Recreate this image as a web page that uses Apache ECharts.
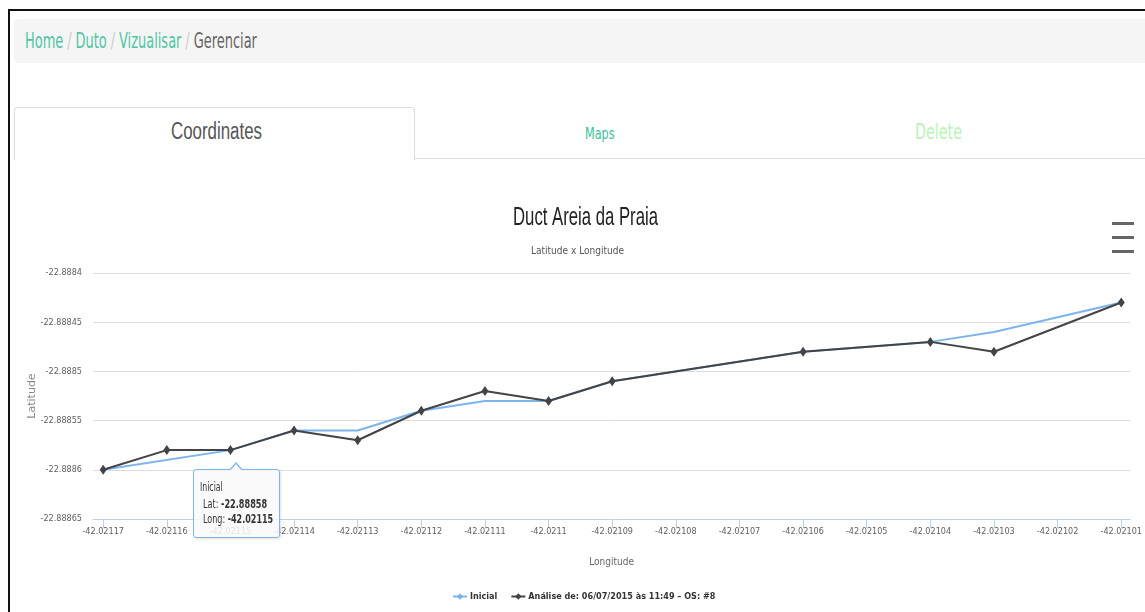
<!DOCTYPE html>
<html><head><meta charset="utf-8">
<script src="https://cdn.jsdelivr.net/npm/echarts@6/dist/echarts.min.js"></script>
<style>
html,body{margin:0;padding:0;width:1145px;height:612px;overflow:hidden;background:#fff;}
body{font-family:"Liberation Sans Narrow","DejaVu Sans Condensed","Liberation Sans",sans-serif;}
#frame{position:absolute;left:8px;top:9px;width:1300px;height:700px;border-left:2px solid #111;border-top:2px solid #111;}
#crumb{position:absolute;left:14px;top:19px;width:1140px;height:44px;background:#f5f5f5;border-radius:4px;}
.fit{position:absolute;white-space:nowrap;transform-origin:0 50%;line-height:1;}
#tab{position:absolute;left:14px;top:107px;width:399px;height:52px;border:1px solid #ddd;border-bottom:none;border-radius:4px 4px 0 0;background:#fff;}
#tabline{position:absolute;left:414px;top:158px;width:740px;height:1px;background:#ddd;}
#chart{position:absolute;left:0;top:0;width:1145px;height:612px;}
#tip{position:absolute;width:85px;height:67px;border:1px solid #7cb5ec;border-radius:3px;background:rgba(249,249,249,0.86);box-shadow:1px 1px 2px rgba(0,0,0,0.12);font-family:"Liberation Sans Narrow","DejaVu Sans Condensed",sans-serif;color:#333;z-index:5;}
#tip .fit{color:#333;}
#arrow{position:absolute;width:0;height:0;border-left:7px solid transparent;border-right:7px solid transparent;border-bottom:8px solid #7cb5ec;z-index:6;}
#arrow2{position:absolute;width:0;height:0;border-left:6px solid transparent;border-right:6px solid transparent;border-bottom:7px solid #f9f9f9;z-index:7;}
</style></head>
<body>
<div id="frame"></div>
<div id="crumb"></div>
<div class="fit" id="bc" style="font-size:22px;"><span style="color:#4fc6a2">Home</span><span style="color:#ccc;padding:0 6px">/</span><span style="color:#4fc6a2">Duto</span><span style="color:#ccc;padding:0 6px">/</span><span style="color:#4fc6a2">Vizualisar</span><span style="color:#ccc;padding:0 6px">/</span><span style="color:#666">Gerenciar</span></div>
<div id="tab"></div>
<div id="tabline"></div>
<div class="fit" id="t1" style="font-family:'Liberation Sans',Arial,sans-serif;font-size:23px;color:#555">Coordinates</div>
<div class="fit" id="t2" style="font-size:15px;color:#3cc29a">Maps</div>
<div class="fit" id="t3" style="font-size:22px;color:#b7f3b7">Delete</div>
<div id="chart"></div>
<div id="tip"><div class="fit" id="tp1" style="font-size:12px">Inicial</div><div class="fit" id="tp2" style="font-size:13px"></div><div class="fit" id="tp3" style="font-size:13px"></div></div>
<div id="arrow"></div><div id="arrow2"></div>
<script>
// ---------- data ----------
const longitudeTicks = [-42.02117,-42.02116,-42.02115,-42.02114,-42.02113,-42.02112,-42.02111,-42.0211,-42.02109,-42.02108,-42.02107,-42.02106,-42.02105,-42.02104,-42.02103,-42.02102,-42.02101];
const latitudeMin = -22.88865, latitudeMax = -22.8884, latitudeStep = 0.00005;

const inicialLon = [-42.02117,-42.02115,-42.02114,-42.02113,-42.02112,-42.02111,-42.0211,-42.02109,-42.02106,-42.02104,-42.02103,-42.02101];
const inicialLat = [-22.8886,-22.88858,-22.88856,-22.88856,-22.88854,-22.88853,-22.88853,-22.88851,-22.88848,-22.88847,-22.88846,-22.88843];

const analiseLon = [-42.02117,-42.02116,-42.02115,-42.02114,-42.02113,-42.02112,-42.02111,-42.0211,-42.02109,-42.02106,-42.02104,-42.02103,-42.02101];
const analiseLat = [-22.8886,-22.88858,-22.88858,-22.88856,-22.88857,-22.88854,-22.88852,-22.88853,-22.88851,-22.88848,-22.88847,-22.88848,-22.88843];

const seriesNames = ['Inicial', 'Análise de: 06/07/2015 às 11:49 – OS: #8'];
const tooltipPoint = {series: 0, index: 1};

// ---------- helpers ----------
function fitEl(id, x, cy, w, centered) {
  const el = document.getElementById(id);
  el.style.top = cy + 'px';
  const ow = el.offsetWidth;
  const s = w / ow;
  el.style.left = (centered ? x - w / 2 : x) + 'px';
  el.style.transform = 'translateY(-50%) scaleX(' + s + ')';
}
fitEl('bc', 25, 41, 232, false);
fitEl('t1', 216, 131, 91, true);
fitEl('t2', 600, 134, 30, true);
fitEl('t3', 938, 132, 47, true);

const NARROW = '"Liberation Sans Narrow","DejaVu Sans Condensed","Liberation Sans",sans-serif';
const mctx = document.createElement('canvas').getContext('2d');
function sx(text, font, target) { mctx.font = font; return target / mctx.measureText(text).width; }
const fmt = v => String(Number(v.toFixed(5)));
const zip = (a, b) => a.map((v, i) => [v, b[i]]);

const titleFont = '26px "Liberation Sans", Arial, sans-serif';
const subFont = '11px ' + NARROW;

const chart = echarts.init(document.getElementById('chart'), null, {renderer: 'canvas'});
chart.setOption({
  animation: false,
  backgroundColor: 'transparent',
  grid: {left: 93, right: 5, top: 273, bottom: 93},
  graphic: [
    {type: 'text', x: 585.5, y: 218, scaleX: sx('Duct Areia da Praia', titleFont, 145),
     style: {text: 'Duct Areia da Praia', font: titleFont, fill: '#222', textAlign: 'center', textVerticalAlign: 'middle'}},
    {type: 'text', x: 577.5, y: 251, scaleX: sx('Latitude x Longitude', subFont, 93),
     style: {text: 'Latitude x Longitude', font: subFont, fill: '#555', textAlign: 'center', textVerticalAlign: 'middle'}},
    {type: 'rect', shape: {x: 1112, y: 222, width: 22, height: 3}, style: {fill: '#666'}},
    {type: 'rect', shape: {x: 1112, y: 236, width: 22, height: 3}, style: {fill: '#666'}},
    {type: 'rect', shape: {x: 1112, y: 250, width: 22, height: 3}, style: {fill: '#666'}}
  ],
  legend: {
    left: 452, top: 592, padding: 0, itemGap: 13, itemWidth: 14, itemHeight: 8,
    data: seriesNames,
    textStyle: {fontFamily: NARROW, fontSize: 9, fontWeight: 'bold', color: '#333', padding: [0, 0, 0, -2]}
  },
  xAxis: {
    type: 'value', min: -42.0211716, max: -42.0210086,
    name: 'Longitude', nameLocation: 'middle', nameGap: 38, nameMoveOverlap: false,
    nameTextStyle: {fontFamily: NARROW, fontSize: 10, color: '#666'},
    axisLine: {show: true, lineStyle: {color: '#C0D0E0', width: 1}},
    axisTick: {show: true, customValues: longitudeTicks, length: 9, lineStyle: {color: '#C0D0E0'}},
    axisLabel: {customValues: longitudeTicks, formatter: fmt, color: '#606060', fontSize: 9, fontFamily: NARROW, margin: 8},
    splitLine: {show: false}
  },
  yAxis: {
    type: 'value', min: latitudeMin, max: latitudeMax, interval: latitudeStep,
    name: 'Latitude', nameLocation: 'middle', nameGap: 55, nameRotate: 90, nameMoveOverlap: false,
    nameTextStyle: {fontFamily: '"DejaVu Sans", sans-serif', fontSize: 11, color: '#888'},
    axisLine: {show: false}, axisTick: {show: false},
    axisLabel: {formatter: fmt, color: '#606060', fontSize: 9, fontFamily: NARROW, margin: 11},
    splitLine: {lineStyle: {color: '#DCDCDC', width: 1}}
  },
  series: [
    {name: seriesNames[0], type: 'line', data: zip(inicialLon, inicialLat),
     symbol: 'diamond', symbolSize: 8, showSymbol: false, z: 2,
     lineStyle: {color: '#7cb5ec', width: 2}, itemStyle: {color: '#7cb5ec'}},
    {name: seriesNames[1], type: 'line', data: zip(analiseLon, analiseLat),
     symbol: 'diamond', symbolSize: [7, 10], showSymbol: true, z: 3,
     lineStyle: {color: '#434348', width: 2}, itemStyle: {color: '#434348'}}
  ]
});

// tooltip overlay anchored to data point
const tlon = [inicialLon, analiseLon][tooltipPoint.series][tooltipPoint.index];
const tlat = [inicialLat, analiseLat][tooltipPoint.series][tooltipPoint.index];
const p = chart.convertToPixel({seriesIndex: tooltipPoint.series}, [tlon, tlat]);
document.getElementById('tp2').innerHTML = 'Lat: <b>' + fmt(tlat) + '</b>';
document.getElementById('tp3').innerHTML = 'Long: <b>' + fmt(tlon) + '</b>';
const tip = document.getElementById('tip');
tip.style.left = (p[0] - 37) + 'px';
tip.style.top = (p[1] + 19) + 'px';
fitEl('tp1', 6, 17, 23, false);
fitEl('tp2', 9, 33, 64, false);
fitEl('tp3', 9, 48, 70, false);
const ar = document.getElementById('arrow'), ar2 = document.getElementById('arrow2');
ar.style.left = (p[0] + 6 - 7) + 'px'; ar.style.top = (p[1] + 12) + 'px';
ar2.style.left = (p[0] + 6 - 6) + 'px'; ar2.style.top = (p[1] + 14) + 'px';
</script>
</body></html>
